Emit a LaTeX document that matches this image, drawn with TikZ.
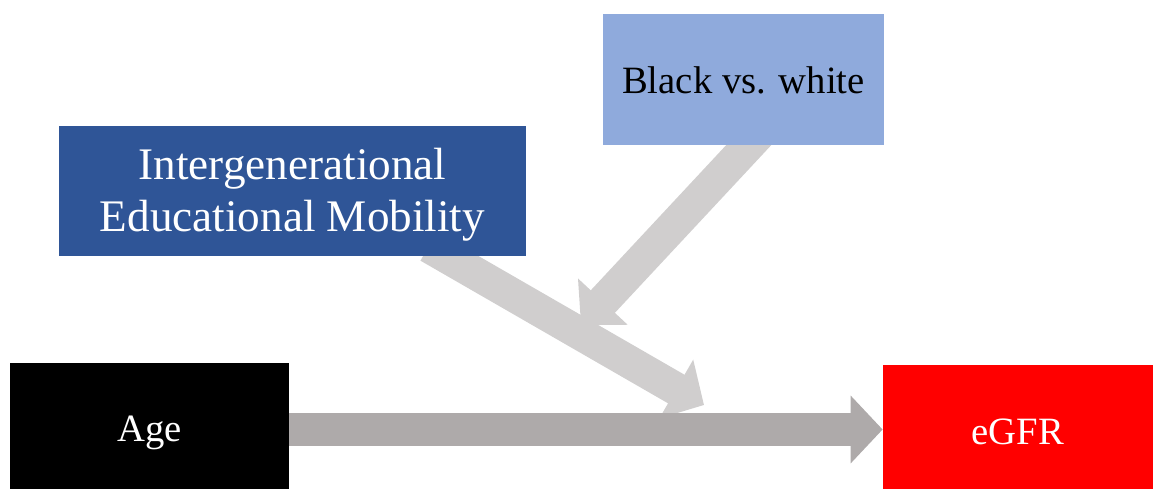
\documentclass[tikz,border=0pt]{standalone}
\usepackage{fontspec}
\setmainfont{Liberation Serif}
\usetikzlibrary{arrows.meta, backgrounds, positioning}

\definecolor{mobblue}{HTML}{2F5597}
\definecolor{raceblue}{HTML}{8FAADC}
\definecolor{lightarrow}{HTML}{D0CECE}
\definecolor{darkarrow}{HTML}{AEAAAA}

\begin{document}
\begin{tikzpicture}[
    box/.style={inner sep=0pt, align=center, text depth=0.2cm, font=\fontsize{22}{26}\selectfont},
    fatarrow/.style={line width=0.66cm, -{Triangle[width=1.32cm,length=0.64cm]}},
  ]
  \useasboundingbox (0,0) rectangle (23.06,9.78);
  % Boxes
  \node[box, fill=raceblue, minimum width=5.62cm, minimum height=2.62cm, text height=0.78cm] (race) at (14.87,8.19) {Black vs. white};
  \node[box, fill=mobblue, text=white, minimum width=9.34cm, minimum height=2.60cm, text height=1.82cm,
        font=\fontsize{25.7}{29.6}\selectfont] (mobility) at (5.85,5.96) {Intergenerational\\Educational Mobility};
  \node[box, fill=black, text=white, minimum width=5.58cm, minimum height=2.52cm, text height=0.83cm] (age) at (2.99,1.26) {Age};
  \node[box, fill=red, text=white, minimum width=5.40cm, minimum height=2.48cm, text height=0.88cm] (egfr) at (20.36,1.24) {eGFR};
  % Arrow tips
  \coordinate (racetip) at (11.62,3.28);
  \coordinate (mobtip) at (14.08,1.68);
  % Arrows
  \begin{scope}[on background layer]
    \draw[fatarrow, lightarrow, shorten <=-0.4cm] ([xshift=0.1cm]race.south) -- (racetip);
    \draw[fatarrow, lightarrow, shorten <=-0.4cm] ([xshift=3.07cm]mobility.south) -- (mobtip);
    \draw[fatarrow, darkarrow] ([yshift=-0.07cm]age.east) -- ([yshift=-0.07cm]age.east -| egfr.west);
  \end{scope}
\end{tikzpicture}
\end{document}
